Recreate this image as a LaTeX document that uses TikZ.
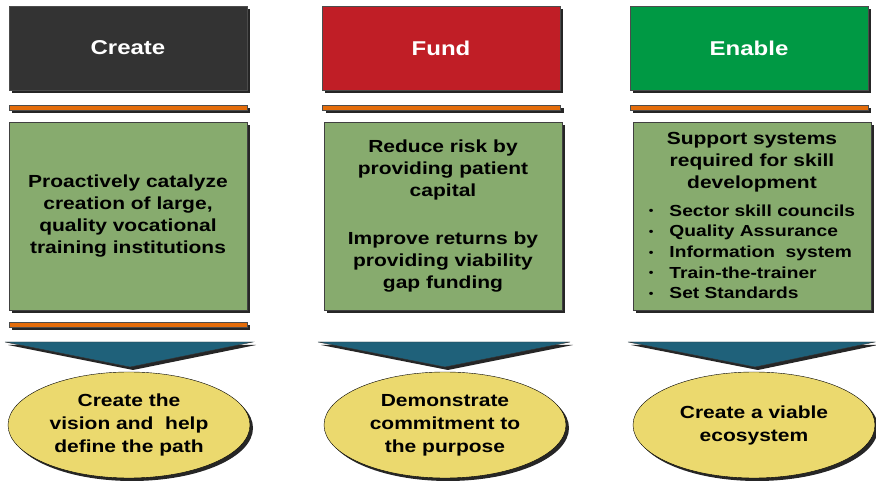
\documentclass[tikz,border=0pt]{standalone}
\usepackage{fontspec}
\usepackage{tikz}
\usetikzlibrary{shadows,shapes.geometric}
\newfontfamily\slidefont{Liberation Sans}[FakeStretch=1.2]
\definecolor{createdark}{RGB}{51, 51, 51}
\definecolor{fundred}{RGB}{192, 30, 38}
\definecolor{enablegreen}{RGB}{0, 153, 68}
\definecolor{boxgreen}{RGB}{135, 171, 110}
\definecolor{barorange}{RGB}{228, 108, 10}
\definecolor{arrowblue}{RGB}{31, 97, 122}
\definecolor{ovalyellow}{RGB}{235, 217, 110}
\newcommand{\dotmark}{\raisebox{1.5pt}{\fontsize{11}{11}\selectfont\textbullet}}

\begin{document}
\begin{tikzpicture}[x=1pt, y=1pt,
    dropshade/.style={drop shadow={shadow xshift=3pt, shadow yshift=-3pt, fill=black, opacity=0.85}},
    headbox/.style={draw=black!70, dropshade, minimum width=238pt, minimum height=84pt,
        inner sep=0pt, text=white, font=\slidefont\bfseries\fontsize{20}{24}\selectfont},
    barline/.style={draw=black!70, fill=barorange, dropshade, minimum width=238pt,
        minimum height=5pt, inner sep=0pt},
    textbox/.style={draw=black!75, fill=boxgreen, dropshade, minimum width=238pt,
        minimum height=188pt, inner sep=0pt, align=center,
        font=\slidefont\bfseries\fontsize{17.5}{22}\selectfont},
    wedge/.style={draw=black!80, fill=arrowblue, dropshade},
    goal/.style={ellipse, draw=black, fill=ovalyellow, dropshade, minimum width=242pt,
        minimum height=106pt, inner sep=0pt, align=center,
        font=\slidefont\bfseries\fontsize{17.5}{23}\selectfont}]
\useasboundingbox (0,0) rectangle (876,482);

% headers
\node[headbox, fill=createdark] (create) at (128,434) {Create};
\node[headbox, fill=fundred] (fund) at (441,434) {Fund};
\node[headbox, fill=enablegreen] (enable) at (749,434) {Enable};

% orange bars
\node[barline] (createbar) at (128,374.5) {};
\node[barline] (fundbar) at (441.5,374.5) {};
\node[barline] (enablebar) at (749,374.5) {};

% green boxes
\node[textbox] (createtext) at (128,266)
    {Proactively catalyze\\creation of large,\\quality vocational\\training institutions};
\node[textbox] (fundtext) at (443,266)
    {Reduce risk by\\providing patient\\capital\\[26pt]Improve returns by\\providing viability\\gap funding};
\node[textbox] (enabletext) at (752,266)
    {Support systems\\required for skill\\development\\[9pt]
    {\fontsize{16}{20.7}\selectfont
    \begin{tabular}{@{}l@{\hspace{16pt}}l@{}}
    \dotmark & Sector skill councils\\
    \dotmark & Quality Assurance\\
    \dotmark & Information\ \ system\\
    \dotmark & Train-the-trainer\\
    \dotmark & Set Standards
    \end{tabular}}\\[-6pt]};

\node[barline] (createbar2) at (128,157) {};

% arrows down
\foreach \name/\l/\r/\m in {create/5/253/130, fund/318/570/445, enable/628/875/755} {
    \coordinate (\name tl) at (\l,140);
    \coordinate (\name tr) at (\r,140);
    \coordinate (\name tip) at (\m,115);
    \draw[wedge] (\name tl) -- (\name tr) -- (\name tip) -- cycle;
}

% goals
\node[goal] (creategoal) at (129,57) {Create the\\vision and\ \ help\\define the path};
\node[goal] (fundgoal) at (445,57) {Demonstrate\\commitment to\\the purpose};
\node[goal] (enablegoal) at (754,57) {Create a viable\\ecosystem};
\end{tikzpicture}
\end{document}
